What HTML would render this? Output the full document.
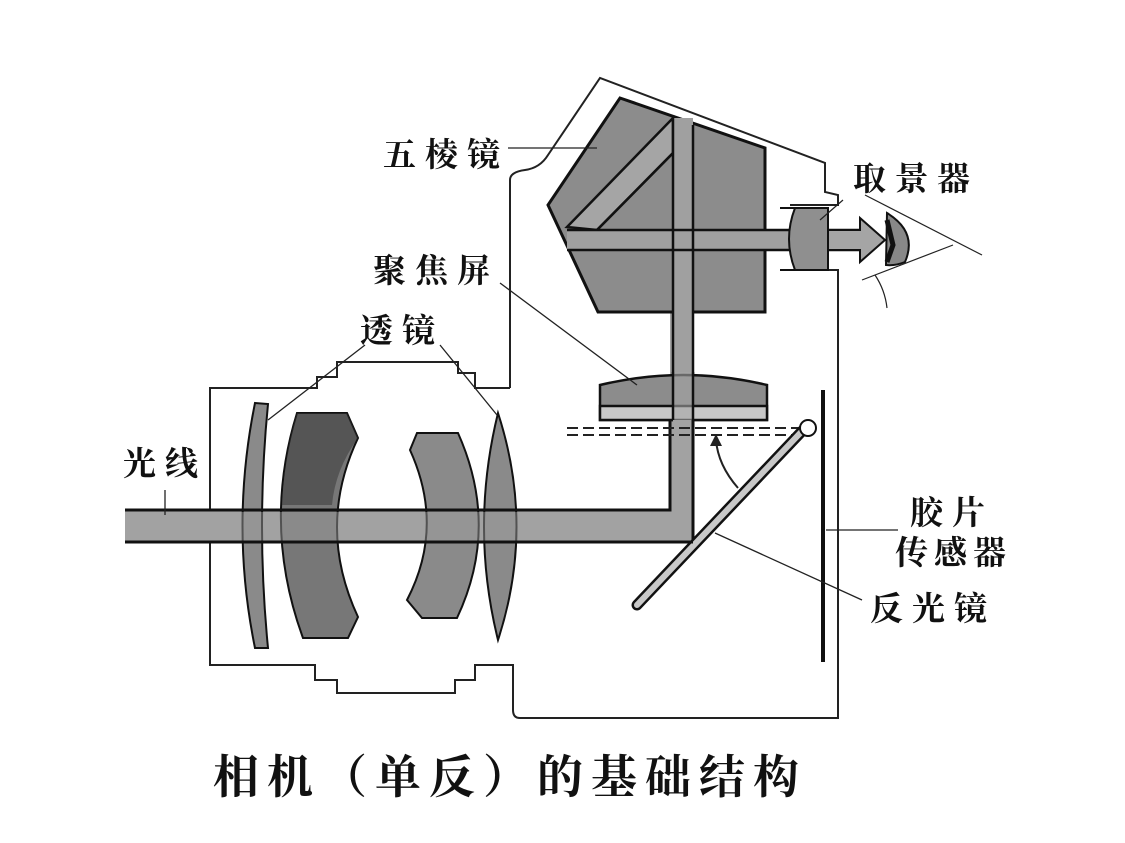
<!DOCTYPE html>
<html><head><meta charset="utf-8"><style>
html,body{margin:0;padding:0;background:#fff;}
svg{display:block}
text{font-family:"Liberation Serif","Noto Serif CJK SC","Noto Sans CJK SC",serif;font-weight:bold;fill:#111}
</style></head><body>
<svg width="1125" height="843" viewBox="0 0 1125 843" xmlns="http://www.w3.org/2000/svg">
<g fill="none" stroke="#222" stroke-width="2">
<path d="M510,388 L510,180 Q510,172 525,170 Q540,168 548,155 L600,78 L825,163 L825,192 L838,195 L838,205 L790,205"/>
<path d="M790,270 L838,270 L838,718 L520,718 Q513,718 513,710 L513,665 L475,665 L475,680 L455,680 L455,693 L337,693 L337,680 L315,680 L315,665 L210,665 L210,388 L317,388 L317,377 L337,377 L337,362 L458,362 L458,373 L475,373 L475,388 L510,388"/>
</g>
<path d="M125,510 L670,510 L670,250 L693,250 L693,542 L125,542 Z" fill="#a2a2a2"/>
<g stroke="#111" stroke-width="3" fill="none">
<path d="M125,510 L670,510 L670,420"/><path d="M125,542 L693,542 L693,420"/>
</g>
<path d="M620,98 L765,148 L765,312 L598,312 L548,205 Z" fill="#8c8c8c" stroke="#111" stroke-width="3"/>
<path d="M673,118 L567,227 L597,230 L673,153 Z" fill="#a5a5a5" stroke="#111" stroke-width="2.5"/>
<rect x="567" y="230" width="223" height="20" fill="#a0a0a0"/>
<rect x="673" y="118" width="20" height="300" fill="#a0a0a0"/>
<g stroke="#111" stroke-width="2.5" fill="none">
<path d="M567,230 L860,230"/><path d="M567,250 L860,250"/>
<path d="M673,118 L673,420"/><path d="M693,125 L693,420"/>
<path d="M597,230 L673,153"/>
</g>
<path d="M795,208 Q783,239 795,270 L828,270 L828,208 Z" fill="#8f8f8f" stroke="#111" stroke-width="2"/>
<path d="M780,208 L828,208 M780,270 L828,270" stroke="#111" stroke-width="2"/>
<path d="M828,230 L860,230 L860,218 L885,240 L860,262 L860,250 L828,250 Z" fill="#a5a5a5" stroke="#111" stroke-width="2"/>
<path d="M887,213 Q918,232 905,262 Q895,266 886,265 Z" fill="#888" stroke="#111" stroke-width="2"/>
<path d="M887,220 L893,245 L887,262" stroke="#111" stroke-width="5" fill="none"/>
<g stroke="#222" stroke-width="1.2" fill="none">
<path d="M865,195 L982,255"/><path d="M862,280 L953,245"/><path d="M875,275 Q885,290 887,308"/>
<path d="M843,200 L820,220"/>
</g>
<path d="M600,385 Q683,365 767,385 L767,420 L600,420 Z" fill="#8c8c8c" stroke="#111" stroke-width="2.5"/>
<rect x="600" y="406" width="167" height="14" fill="#c8c8c8" stroke="#111" stroke-width="2.5"/>
<rect x="673" y="372" width="20" height="48" fill="#a5a5a5" opacity="0.6"/>
<path d="M673,372 L673,420 M693,372 L693,420" stroke="#111" stroke-width="2.5"/>
<rect x="673" y="420" width="20" height="90" fill="#a2a2a2"/>
<path d="M670,420 L670,510 M693,420 L693,542" stroke="#111" stroke-width="3"/>
<path d="M567,428 L800,428 M567,435 L800,435" stroke="#222" stroke-width="2" stroke-dasharray="11,5"/>
<path d="M637,605 L805,428" stroke="#111" stroke-width="11" stroke-linecap="round"/>
<path d="M637,605 L805,428" stroke="#c8c8c8" stroke-width="6" stroke-linecap="round"/>
<circle cx="808" cy="428" r="8" fill="#fff" stroke="#111" stroke-width="2"/>
<path d="M738,488 Q718,465 716,440" stroke="#222" stroke-width="2" fill="none"/>
<path d="M710,446 L716,434 L722,446 Z" fill="#222"/>
<path d="M823,390 L823,662" stroke="#111" stroke-width="4"/>
<path d="M255,403 L268,404 Q256,526 268,648 L255,648 Q230,526 255,403 Z" fill="#8a8a8a" stroke="#111" stroke-width="2"/>
<path d="M297,413 L347,413 L358,438 Q316,527 358,617 L348,638 L303,638 Q262,526 297,413 Z" fill="#777" stroke="#111" stroke-width="2"/>
<path d="M297,413 L347,413 L358,438 Q335,470 332,505 L282,505 Q285,450 297,413 Z" fill="#333" opacity="0.5"/>
<path d="M417,433 L458,433 Q500,527 457,618 L422,618 L407,600 Q445,527 410,450 Z" fill="#8a8a8a" stroke="#111" stroke-width="2"/>
<path d="M498,413 Q535,527 498,640 Q470,527 498,413 Z" fill="#8a8a8a" stroke="#111" stroke-width="2"/>
<rect x="230" y="512" width="300" height="29" fill="#a2a2a2" opacity="0.45"/>
<path d="M125,510 L670,510 M125,542 L693,542" stroke="#111" stroke-width="3"/>
<g stroke="#222" stroke-width="1.3" fill="none">
<path d="M508,148 L597,148"/><path d="M500,283 L637,385"/>
<path d="M365,345 L268,420"/><path d="M440,345 L497,415"/>
<path d="M165,490 L165,515"/><path d="M826,530 L898,530"/><path d="M715,533 L862,600"/>
</g>
<text x="383" y="166" font-size="33" letter-spacing="9">五棱镜</text>
<text x="853" y="190" font-size="33" letter-spacing="9">取景器</text>
<text x="373" y="282" font-size="33" letter-spacing="9">聚焦屏</text>
<text x="360" y="342" font-size="33" letter-spacing="9">透镜</text>
<text x="123" y="475" font-size="33" letter-spacing="9">光线</text>
<text x="910" y="524" font-size="33" letter-spacing="9">胶片</text>
<text x="895" y="564" font-size="33" letter-spacing="6">传感器</text>
<text x="870" y="620" font-size="33" letter-spacing="9">反光镜</text>
<text x="213" y="793" font-size="46" letter-spacing="8">相机（单反）的基础结构</text>
</svg>
</body></html>
